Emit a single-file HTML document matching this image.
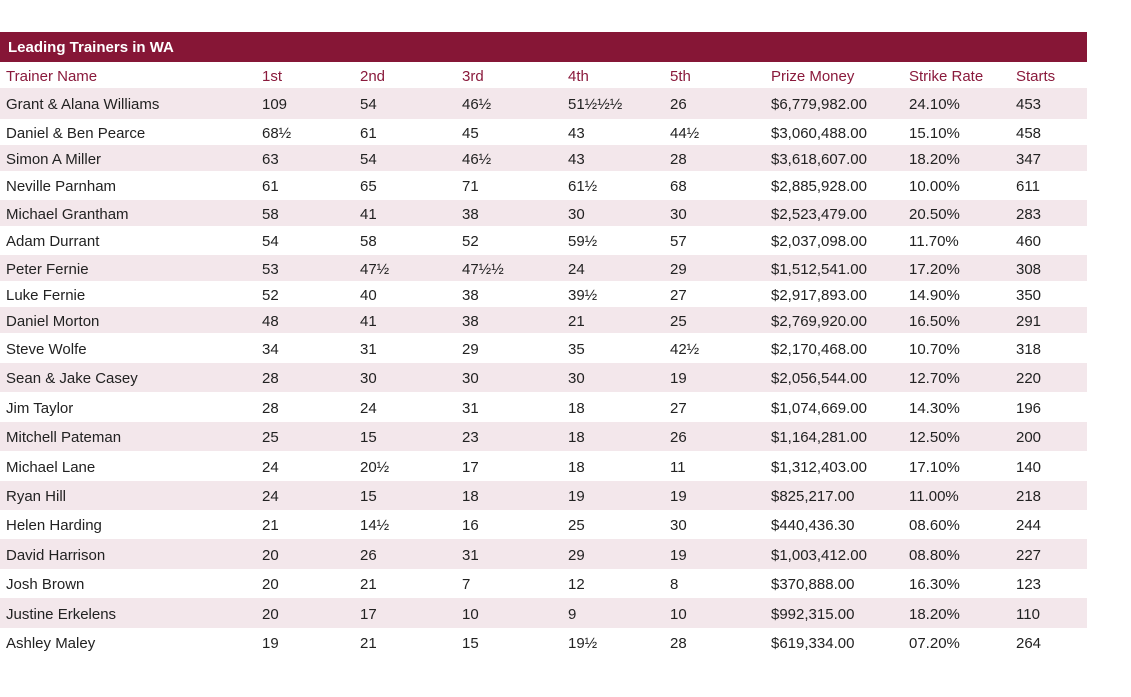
<!DOCTYPE html>
<html><head><meta charset="utf-8"><style>
body{margin:0;width:1131px;height:697px;background:#fff;font-family:"Liberation Sans",sans-serif;position:relative;overflow:hidden}
.bar{position:absolute;left:0;top:32px;width:1087px;height:30px;background:#861636;color:#fff;font-weight:bold;font-size:15px;line-height:31px;padding-left:8px;box-sizing:border-box}
.r{position:absolute;left:0;width:1087px;font-size:15px;color:#222}
.r span{position:absolute;top:0;white-space:nowrap}
.s{background:#f3e7eb}
.h{color:#8a1a3c}
</style></head><body>
<div class="bar">Leading Trainers in WA</div>
<div id="t"></div>
<script>
var rows=[
["Trainer Name","1st","2nd","3rd","4th","5th","Prize Money","Strike Rate","Starts",62,89],
["Grant & Alana Williams","109","54","46½","51½½½","26","$6,779,982.00","24.10%","453",88,119],
["Daniel & Ben Pearce","68½","61","45","43","44½","$3,060,488.00","15.10%","458",119,145],
["Simon A Miller","63","54","46½","43","28","$3,618,607.00","18.20%","347",145,171],
["Neville Parnham","61","65","71","61½","68","$2,885,928.00","10.00%","611",171,200],
["Michael Grantham","58","41","38","30","30","$2,523,479.00","20.50%","283",200,226],
["Adam Durrant","54","58","52","59½","57","$2,037,098.00","11.70%","460",226,255],
["Peter Fernie","53","47½","47½½","24","29","$1,512,541.00","17.20%","308",255,281],
["Luke Fernie","52","40","38","39½","27","$2,917,893.00","14.90%","350",281,307],
["Daniel Morton","48","41","38","21","25","$2,769,920.00","16.50%","291",307,333],
["Steve Wolfe","34","31","29","35","42½","$2,170,468.00","10.70%","318",333,363],
["Sean & Jake Casey","28","30","30","30","19","$2,056,544.00","12.70%","220",363,392],
["Jim Taylor","28","24","31","18","27","$1,074,669.00","14.30%","196",392,422],
["Mitchell Pateman","25","15","23","18","26","$1,164,281.00","12.50%","200",422,451],
["Michael Lane","24","20½","17","18","11","$1,312,403.00","17.10%","140",451,481],
["Ryan Hill","24","15","18","19","19","$825,217.00","11.00%","218",481,510],
["Helen Harding","21","14½","16","25","30","$440,436.30","08.60%","244",510,539],
["David Harrison","20","26","31","29","19","$1,003,412.00","08.80%","227",539,569],
["Josh Brown","20","21","7","12","8","$370,888.00","16.30%","123",569,598],
["Justine Erkelens","20","17","10","9","10","$992,315.00","18.20%","110",598,628],
["Ashley Maley","19","21","15","19½","28","$619,334.00","07.20%","264",628,657]];
var xs=[6,262,360,462,568,670,771,909,1016],h="";
rows.forEach(function(r,i){
var ht=r[10]-r[9];
var cls="r"+(i==0?" h":"")+(i%2==1?" s":"");
h+='<div class="'+cls+'" style="top:'+r[9]+'px;height:'+ht+'px;line-height:'+(ht+3)+'px">';
for(var j=0;j<9;j++)h+='<span style="left:'+xs[j]+'px">'+r[j].replace(/&/g,"&amp;")+'</span>';
h+='</div>';});
document.getElementById("t").innerHTML=h;
</script>
</body></html>
